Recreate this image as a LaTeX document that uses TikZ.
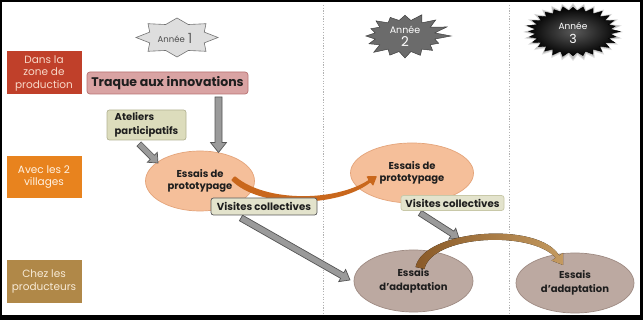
\documentclass[tikz,border=0pt]{standalone}
\usepackage{fontspec}
\setmainfont{Poppins}
\usetikzlibrary{calc,shapes.geometric}
\definecolor{zonered}{HTML}{C0402A}
\definecolor{zoneredtxt}{HTML}{F8D8C8}
\definecolor{zoneorange}{HTML}{E8831E}
\definecolor{zoneorangetxt}{HTML}{FFF2E2}
\definecolor{zonebrown}{HTML}{B08848}
\definecolor{zonebrowntxt}{HTML}{F7EAD6}
\definecolor{traquefill}{HTML}{D9A3A3}
\definecolor{traquedraw}{HTML}{B87272}
\definecolor{ateliersfill}{HTML}{DCDCBC}
\definecolor{ateliersdraw}{HTML}{B4B494}
\definecolor{visfill}{HTML}{E3E3CC}
\definecolor{visdrawB}{HTML}{C8C8A8}
\definecolor{protofill}{HTML}{F5BF9A}
\definecolor{protodraw}{HTML}{E4A47A}
\definecolor{adaptfill}{HTML}{BCA9A1}
\definecolor{adaptdraw}{HTML}{9E8A82}
\definecolor{arrowfill}{HTML}{9A9A9A}
\definecolor{arrowdraw}{HTML}{555555}
\definecolor{curveorange}{HTML}{C9671C}
\definecolor{curvebrownA}{HTML}{8A5A28}
\definecolor{curvebrownB}{HTML}{C49A60}
\definecolor{txtdark}{HTML}{1E1E1E}

\newcommand\starshape[8]{% style, cx, cy, rx, ry, n, inner ratio, random amount
  \pgfmathtruncatemacro\stN{2*#6-1}%
  \path[#1] ({#2+#4},{#3}) \foreach \i [evaluate=\i as \rr using {mod(\i,2)==0 ? 1-#8*rnd : #7}] in {1,...,\stN} { -- ({#2+#4*\rr*cos(\i*180/#6)},{#3+#5*\rr*sin(\i*180/#6)}) } -- cycle;}

\newcommand\blockarrow[5]{% from, to, shaft half width, head half width, head length
  \path let \p1=(#1), \p2=(#2), \n1={atan2(\y2-\y1,\x2-\x1)}, \n2={veclen(\x2-\x1,\y2-\y1)} in
    \pgfextra{\pgfmathparse{\n1}\xdef\baAng{\pgfmathresult}\pgfmathparse{\n2}\xdef\baLen{\pgfmathresult}\xdef\baX{\x1}\xdef\baY{\y1}};
  \draw[grayarrow, shift={(\baX,\baY)}, rotate=\baAng]
    (0,-#3) -- ({\baLen-#5},-#3) -- ({\baLen-#5},-#4) -- (\baLen,0) -- ({\baLen-#5},#4) -- ({\baLen-#5},#3) -- (0,#3) -- cycle;}

\begin{document}
\begin{tikzpicture}[x=1pt,y=-1pt,
  zonebox/.style={rectangle, minimum width=75pt, minimum height=43pt, inner sep=0pt, align=center, font=\fontsize{10.5}{12.5}\selectfont},
  labelbox/.style={rectangle, rounded corners=2.5pt, line width=0.7pt, inner sep=0pt, text=txtdark, font=\bfseries\fontsize{10.2}{14}\selectfont},
  protoell/.style={ellipse, fill=protofill, draw=protodraw, line width=0.7pt, inner sep=0pt, align=center, text=txtdark, font=\bfseries\fontsize{10}{12.5}\selectfont},
  adaptell/.style={ellipse, fill=adaptfill, draw=adaptdraw, line width=0.7pt, inner sep=0pt, align=center, text=txtdark, font=\bfseries\fontsize{10}{14}\selectfont},
  grayarrow/.style={fill=arrowfill, draw=arrowdraw, line width=0.7pt, line join=miter},
  divider/.style={draw=black!30, line width=0.7pt, dash pattern=on 1.2pt off 1.5pt}]
\useasboundingbox (0,0) rectangle (643,320);
% frame
\fill[black] (0,0) rectangle (643,320);
\fill[white] (2,2) rectangle (640,315);
% dividers
\coordinate (d1t) at (323,5); \coordinate (d1b) at (323,313);
\coordinate (d2t) at (509,5); \coordinate (d2b) at (509,313);
\draw[divider] (d1t) -- (d1b);
\draw[divider] (d2t) -- (d2b);
% year stars
\starshape{fill=black!13, draw=black!55, line width=0.6pt}{177}{37.5}{41}{19.5}{8}{0.72}{0}
\node[text=black!70, font=\fontsize{8.5}{10}\selectfont, inner sep=0pt] (year1) at (175,38) {Année\hspace{3pt}\raisebox{-0.5pt}{\fontsize{14}{14}\selectfont\color{black!60}1}};
\pgfmathsetseed{11}
\starshape{fill=black!58, draw=black!75, line width=0.5pt}{405}{36}{46}{24}{16}{0.66}{0.22}
\node[text=white, align=center, inner sep=0pt, font=\fontsize{9.5}{13}\selectfont] (year2) at (405,36.5) {Année\\{\fontsize{13.5}{13}\selectfont 2}};
\starshape{fill=black!12}{573}{32}{50}{29}{28}{0.8}{0}
\starshape{fill=black!25}{573}{31.8}{48.5}{27.5}{28}{0.8}{0}
\starshape{shade, inner color=black!65, outer color=black, draw=black, line width=0.4pt}{573}{31.5}{47}{26}{28}{0.8}{0.08}
\node[text=white, align=center, inner sep=0pt, font=\fontsize{9}{14}\selectfont] (year3) at (573,33) {Année\\{\fontsize{12.5}{14}\selectfont 3}};
% left zone labels
\node[zonebox, fill=zonered, text=zoneredtxt] (dans) at (44,73) {Dans la\\zone de\\production};
\node[zonebox, fill=zoneorange, text=zoneorangetxt, minimum height=42pt] (avec) at (44,177) {Avec les 2\\villages};
\node[zonebox, fill=zonebrown, text=zonebrowntxt] (chez) at (44,281.5) {Chez les\\producteurs};
% boxes
\node[labelbox, rounded corners=3pt, fill=traquefill, draw=traquedraw, minimum width=161pt, minimum height=22pt, font=\bfseries\fontsize{12.5}{14}\selectfont] (traque) at (167.5,83) {Traque aux innovations};
\node[labelbox, fill=ateliersfill, draw=ateliersdraw, minimum width=79pt, minimum height=30pt, align=left, font=\bfseries\fontsize{10}{14}\selectfont] (ateliers) at (146.5,125) {Ateliers\\participatifs};
% ellipses
\node[protoell, minimum width=109pt, minimum height=60pt] (proto1) at (200,181) {Essais de\\prototypage};
\node[protoell, minimum width=123pt, minimum height=60pt] (proto2) at (412,173) {Essais de\\prototypage};
\node[adaptell, minimum width=119pt, minimum height=62pt] (adapt1) at (413.5,281) {Essais\\d’adaptation};
\node[adaptell, minimum width=118pt, minimum height=60pt] (adapt2) at (575,283) {Essais\\d’adaptation};
% gray block arrows
\coordinate (g1s) at (218.5,97);  \coordinate (g1e) at (218.5,152.5);
\coordinate (g2s) at (139,144);   \coordinate (g2e) at (158,163);
\coordinate (g3s) at (241,218);   \coordinate (g3e) at (350,280);
\coordinate (g4s) at (420,213);   \coordinate (g4e) at (459,238);
\blockarrow{g1s}{g1e}{3.5}{8}{10}
\blockarrow{g2s}{g2e}{3}{7}{8}
\blockarrow{g3s}{g3e}{3.2}{7}{9}
\blockarrow{g4s}{g4e}{3}{6.5}{8}
% orange curved arrow (proto1 -> proto2)
\fill[curveorange, rounded corners=0.8pt] (231.1,180) .. controls (259,208) and (336,208.5) .. (370.5,182.4)
  -- (373.1,186.1) -- (377,176) -- (366.2,176.3) -- (368.7,180)
  .. controls (334,202) and (265,202) .. (234.9,176) -- cycle;
% brown curved arrow (adapt1 -> adapt2)
\fill[left color=curvebrownA, right color=curvebrownB] (415.6,267) .. controls (424,229) and (539,221) .. (559.1,255.6)
  -- (563.2,252.8) -- (563,265) -- (551.6,260.6) -- (555.7,257.8)
  .. controls (531,230) and (432,235) .. (424.4,269) -- cycle;
% visites boxes
\node[labelbox, fill=visfill, draw=black!65, minimum width=106pt, minimum height=17pt] (vis1) at (264,206.5) {Visites collectives};
\node[labelbox, fill=visfill, draw=visdrawB, minimum width=103pt, minimum height=15pt] (vis2) at (452.5,203) {Visites collectives};
\end{tikzpicture}
\end{document}
